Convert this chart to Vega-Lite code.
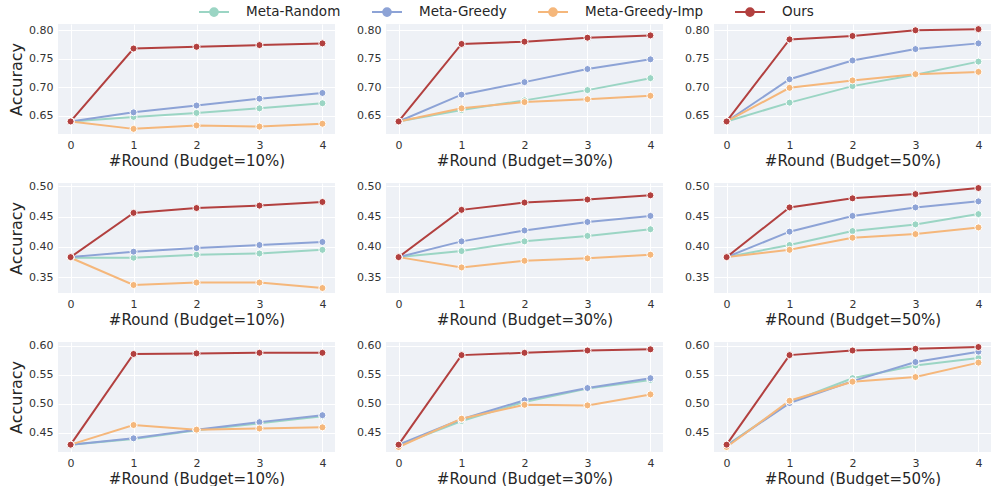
{
  "$schema": "https://vega.github.io/schema/vega-lite/v6.json",
  "padding": {"left": 8, "top": 3, "right": 0, "bottom": 0},
  "datasets": {
    "d": [
      {"p":1,"m":"Meta-Random","r":0,"a":0.640},{"p":1,"m":"Meta-Random","r":1,"a":0.648},{"p":1,"m":"Meta-Random","r":2,"a":0.655},{"p":1,"m":"Meta-Random","r":3,"a":0.663},{"p":1,"m":"Meta-Random","r":4,"a":0.672},
      {"p":1,"m":"Meta-Greedy","r":0,"a":0.640},{"p":1,"m":"Meta-Greedy","r":1,"a":0.656},{"p":1,"m":"Meta-Greedy","r":2,"a":0.668},{"p":1,"m":"Meta-Greedy","r":3,"a":0.680},{"p":1,"m":"Meta-Greedy","r":4,"a":0.690},
      {"p":1,"m":"Meta-Greedy-Imp","r":0,"a":0.640},{"p":1,"m":"Meta-Greedy-Imp","r":1,"a":0.627},{"p":1,"m":"Meta-Greedy-Imp","r":2,"a":0.633},{"p":1,"m":"Meta-Greedy-Imp","r":3,"a":0.631},{"p":1,"m":"Meta-Greedy-Imp","r":4,"a":0.636},
      {"p":1,"m":"Ours","r":0,"a":0.640},{"p":1,"m":"Ours","r":1,"a":0.768},{"p":1,"m":"Ours","r":2,"a":0.771},{"p":1,"m":"Ours","r":3,"a":0.774},{"p":1,"m":"Ours","r":4,"a":0.777},

      {"p":2,"m":"Meta-Random","r":0,"a":0.640},{"p":2,"m":"Meta-Random","r":1,"a":0.660},{"p":2,"m":"Meta-Random","r":2,"a":0.677},{"p":2,"m":"Meta-Random","r":3,"a":0.695},{"p":2,"m":"Meta-Random","r":4,"a":0.716},
      {"p":2,"m":"Meta-Greedy","r":0,"a":0.640},{"p":2,"m":"Meta-Greedy","r":1,"a":0.687},{"p":2,"m":"Meta-Greedy","r":2,"a":0.709},{"p":2,"m":"Meta-Greedy","r":3,"a":0.732},{"p":2,"m":"Meta-Greedy","r":4,"a":0.749},
      {"p":2,"m":"Meta-Greedy-Imp","r":0,"a":0.640},{"p":2,"m":"Meta-Greedy-Imp","r":1,"a":0.663},{"p":2,"m":"Meta-Greedy-Imp","r":2,"a":0.674},{"p":2,"m":"Meta-Greedy-Imp","r":3,"a":0.679},{"p":2,"m":"Meta-Greedy-Imp","r":4,"a":0.685},
      {"p":2,"m":"Ours","r":0,"a":0.640},{"p":2,"m":"Ours","r":1,"a":0.776},{"p":2,"m":"Ours","r":2,"a":0.780},{"p":2,"m":"Ours","r":3,"a":0.787},{"p":2,"m":"Ours","r":4,"a":0.791},

      {"p":3,"m":"Meta-Random","r":0,"a":0.640},{"p":3,"m":"Meta-Random","r":1,"a":0.673},{"p":3,"m":"Meta-Random","r":2,"a":0.702},{"p":3,"m":"Meta-Random","r":3,"a":0.722},{"p":3,"m":"Meta-Random","r":4,"a":0.745},
      {"p":3,"m":"Meta-Greedy","r":0,"a":0.640},{"p":3,"m":"Meta-Greedy","r":1,"a":0.714},{"p":3,"m":"Meta-Greedy","r":2,"a":0.747},{"p":3,"m":"Meta-Greedy","r":3,"a":0.767},{"p":3,"m":"Meta-Greedy","r":4,"a":0.777},
      {"p":3,"m":"Meta-Greedy-Imp","r":0,"a":0.640},{"p":3,"m":"Meta-Greedy-Imp","r":1,"a":0.699},{"p":3,"m":"Meta-Greedy-Imp","r":2,"a":0.712},{"p":3,"m":"Meta-Greedy-Imp","r":3,"a":0.723},{"p":3,"m":"Meta-Greedy-Imp","r":4,"a":0.727},
      {"p":3,"m":"Ours","r":0,"a":0.640},{"p":3,"m":"Ours","r":1,"a":0.784},{"p":3,"m":"Ours","r":2,"a":0.790},{"p":3,"m":"Ours","r":3,"a":0.800},{"p":3,"m":"Ours","r":4,"a":0.802},

      {"p":4,"m":"Meta-Random","r":0,"a":0.382},{"p":4,"m":"Meta-Random","r":1,"a":0.382},{"p":4,"m":"Meta-Random","r":2,"a":0.387},{"p":4,"m":"Meta-Random","r":3,"a":0.389},{"p":4,"m":"Meta-Random","r":4,"a":0.395},
      {"p":4,"m":"Meta-Greedy","r":0,"a":0.383},{"p":4,"m":"Meta-Greedy","r":1,"a":0.392},{"p":4,"m":"Meta-Greedy","r":2,"a":0.398},{"p":4,"m":"Meta-Greedy","r":3,"a":0.403},{"p":4,"m":"Meta-Greedy","r":4,"a":0.408},
      {"p":4,"m":"Meta-Greedy-Imp","r":0,"a":0.382},{"p":4,"m":"Meta-Greedy-Imp","r":1,"a":0.337},{"p":4,"m":"Meta-Greedy-Imp","r":2,"a":0.341},{"p":4,"m":"Meta-Greedy-Imp","r":3,"a":0.341},{"p":4,"m":"Meta-Greedy-Imp","r":4,"a":0.332},
      {"p":4,"m":"Ours","r":0,"a":0.383},{"p":4,"m":"Ours","r":1,"a":0.456},{"p":4,"m":"Ours","r":2,"a":0.464},{"p":4,"m":"Ours","r":3,"a":0.468},{"p":4,"m":"Ours","r":4,"a":0.474},

      {"p":5,"m":"Meta-Random","r":0,"a":0.383},{"p":5,"m":"Meta-Random","r":1,"a":0.393},{"p":5,"m":"Meta-Random","r":2,"a":0.409},{"p":5,"m":"Meta-Random","r":3,"a":0.418},{"p":5,"m":"Meta-Random","r":4,"a":0.429},
      {"p":5,"m":"Meta-Greedy","r":0,"a":0.383},{"p":5,"m":"Meta-Greedy","r":1,"a":0.409},{"p":5,"m":"Meta-Greedy","r":2,"a":0.427},{"p":5,"m":"Meta-Greedy","r":3,"a":0.441},{"p":5,"m":"Meta-Greedy","r":4,"a":0.451},
      {"p":5,"m":"Meta-Greedy-Imp","r":0,"a":0.383},{"p":5,"m":"Meta-Greedy-Imp","r":1,"a":0.366},{"p":5,"m":"Meta-Greedy-Imp","r":2,"a":0.377},{"p":5,"m":"Meta-Greedy-Imp","r":3,"a":0.381},{"p":5,"m":"Meta-Greedy-Imp","r":4,"a":0.387},
      {"p":5,"m":"Ours","r":0,"a":0.383},{"p":5,"m":"Ours","r":1,"a":0.461},{"p":5,"m":"Ours","r":2,"a":0.473},{"p":5,"m":"Ours","r":3,"a":0.478},{"p":5,"m":"Ours","r":4,"a":0.485},

      {"p":6,"m":"Meta-Random","r":0,"a":0.383},{"p":6,"m":"Meta-Random","r":1,"a":0.403},{"p":6,"m":"Meta-Random","r":2,"a":0.426},{"p":6,"m":"Meta-Random","r":3,"a":0.437},{"p":6,"m":"Meta-Random","r":4,"a":0.454},
      {"p":6,"m":"Meta-Greedy","r":0,"a":0.383},{"p":6,"m":"Meta-Greedy","r":1,"a":0.425},{"p":6,"m":"Meta-Greedy","r":2,"a":0.451},{"p":6,"m":"Meta-Greedy","r":3,"a":0.465},{"p":6,"m":"Meta-Greedy","r":4,"a":0.475},
      {"p":6,"m":"Meta-Greedy-Imp","r":0,"a":0.383},{"p":6,"m":"Meta-Greedy-Imp","r":1,"a":0.395},{"p":6,"m":"Meta-Greedy-Imp","r":2,"a":0.415},{"p":6,"m":"Meta-Greedy-Imp","r":3,"a":0.421},{"p":6,"m":"Meta-Greedy-Imp","r":4,"a":0.432},
      {"p":6,"m":"Ours","r":0,"a":0.383},{"p":6,"m":"Ours","r":1,"a":0.465},{"p":6,"m":"Ours","r":2,"a":0.480},{"p":6,"m":"Ours","r":3,"a":0.487},{"p":6,"m":"Ours","r":4,"a":0.497},

      {"p":7,"m":"Meta-Random","r":0,"a":0.429},{"p":7,"m":"Meta-Random","r":1,"a":0.439},{"p":7,"m":"Meta-Random","r":2,"a":0.454},{"p":7,"m":"Meta-Random","r":3,"a":0.466},{"p":7,"m":"Meta-Random","r":4,"a":0.478},
      {"p":7,"m":"Meta-Greedy","r":0,"a":0.429},{"p":7,"m":"Meta-Greedy","r":1,"a":0.440},{"p":7,"m":"Meta-Greedy","r":2,"a":0.455},{"p":7,"m":"Meta-Greedy","r":3,"a":0.468},{"p":7,"m":"Meta-Greedy","r":4,"a":0.480},
      {"p":7,"m":"Meta-Greedy-Imp","r":0,"a":0.429},{"p":7,"m":"Meta-Greedy-Imp","r":1,"a":0.463},{"p":7,"m":"Meta-Greedy-Imp","r":2,"a":0.455},{"p":7,"m":"Meta-Greedy-Imp","r":3,"a":0.457},{"p":7,"m":"Meta-Greedy-Imp","r":4,"a":0.459},
      {"p":7,"m":"Ours","r":0,"a":0.429},{"p":7,"m":"Ours","r":1,"a":0.586},{"p":7,"m":"Ours","r":2,"a":0.587},{"p":7,"m":"Ours","r":3,"a":0.588},{"p":7,"m":"Ours","r":4,"a":0.588},

      {"p":8,"m":"Meta-Random","r":0,"a":0.428},{"p":8,"m":"Meta-Random","r":1,"a":0.470},{"p":8,"m":"Meta-Random","r":2,"a":0.503},{"p":8,"m":"Meta-Random","r":3,"a":0.526},{"p":8,"m":"Meta-Random","r":4,"a":0.541},
      {"p":8,"m":"Meta-Greedy","r":0,"a":0.429},{"p":8,"m":"Meta-Greedy","r":1,"a":0.473},{"p":8,"m":"Meta-Greedy","r":2,"a":0.506},{"p":8,"m":"Meta-Greedy","r":3,"a":0.527},{"p":8,"m":"Meta-Greedy","r":4,"a":0.544},
      {"p":8,"m":"Meta-Greedy-Imp","r":0,"a":0.425},{"p":8,"m":"Meta-Greedy-Imp","r":1,"a":0.474},{"p":8,"m":"Meta-Greedy-Imp","r":2,"a":0.498},{"p":8,"m":"Meta-Greedy-Imp","r":3,"a":0.497},{"p":8,"m":"Meta-Greedy-Imp","r":4,"a":0.516},
      {"p":8,"m":"Ours","r":0,"a":0.429},{"p":8,"m":"Ours","r":1,"a":0.584},{"p":8,"m":"Ours","r":2,"a":0.588},{"p":8,"m":"Ours","r":3,"a":0.592},{"p":8,"m":"Ours","r":4,"a":0.594},

      {"p":9,"m":"Meta-Random","r":0,"a":0.428},{"p":9,"m":"Meta-Random","r":1,"a":0.502},{"p":9,"m":"Meta-Random","r":2,"a":0.544},{"p":9,"m":"Meta-Random","r":3,"a":0.566},{"p":9,"m":"Meta-Random","r":4,"a":0.579},
      {"p":9,"m":"Meta-Greedy","r":0,"a":0.427},{"p":9,"m":"Meta-Greedy","r":1,"a":0.501},{"p":9,"m":"Meta-Greedy","r":2,"a":0.539},{"p":9,"m":"Meta-Greedy","r":3,"a":0.572},{"p":9,"m":"Meta-Greedy","r":4,"a":0.590},
      {"p":9,"m":"Meta-Greedy-Imp","r":0,"a":0.425},{"p":9,"m":"Meta-Greedy-Imp","r":1,"a":0.505},{"p":9,"m":"Meta-Greedy-Imp","r":2,"a":0.538},{"p":9,"m":"Meta-Greedy-Imp","r":3,"a":0.546},{"p":9,"m":"Meta-Greedy-Imp","r":4,"a":0.571},
      {"p":9,"m":"Ours","r":0,"a":0.429},{"p":9,"m":"Ours","r":1,"a":0.584},{"p":9,"m":"Ours","r":2,"a":0.592},{"p":9,"m":"Ours","r":3,"a":0.595},{"p":9,"m":"Ours","r":4,"a":0.598}
    ]
  },
  "data": {"name": "d"},
  "columns": 3,
  "spacing": {"row": 49, "column": 51},
  "bounds": "flush",
  "concat": [
    {"width":277,"height":110,"transform":[{"filter":"datum.p==1"}],
     "encoding":{
       "x":{"field":"r","type":"quantitative","scale":{"domain":[-0.2,4.2],"nice":false,"zero":false},"axis":{"values":[0,1,2,3,4],"format":"d","title":"#Round (Budget=10%)"}},
       "y":{"field":"a","type":"quantitative","scale":{"domain":[0.618,0.811],"nice":false,"zero":false},"axis":{"values":[0.65,0.7,0.75,0.8],"format":".2f","title":"Accuracy"}},
       "color":{"field":"m","type":"nominal","scale":{"domain":["Meta-Random","Meta-Greedy","Meta-Greedy-Imp","Ours"],"range":["#9bd5c4","#8da3d6","#f5b77b","#b2403f"]},
         "legend":{"orient":"none","legendX":147,"legendY":-21,"direction":"horizontal","title":null,"symbolType":"M-1.875,0L-0.48,0M0.48,0L1.875,0M-0.48,0A0.48,0.48,0,1,1,0.48,0A0.48,0.48,0,1,1,-0.48,0Z","symbolSize":256,"labelOffset":23,"columnPadding":27,"labelFontSize":13.5,"labelFont":"DejaVu Sans","labelColor":"#262626",
           "encode":{"symbols":{"update":{"fill":{"scale":"color","field":"value"},"stroke":{"scale":"color","field":"value"},"strokeWidth":{"value":2},"opacity":{"value":1}}}}}}},
     "layer":[{"mark":{"type":"line","strokeWidth":2}},{"mark":{"type":"point","filled":true,"size":50,"stroke":"white","strokeWidth":1,"opacity":1}}]},
    {"width":277,"height":110,"transform":[{"filter":"datum.p==2"}],
     "encoding":{
       "x":{"field":"r","type":"quantitative","scale":{"domain":[-0.2,4.2],"nice":false,"zero":false},"axis":{"values":[0,1,2,3,4],"format":"d","title":"#Round (Budget=30%)"}},
       "y":{"field":"a","type":"quantitative","scale":{"domain":[0.618,0.811],"nice":false,"zero":false},"axis":{"values":[0.65,0.7,0.75,0.8],"format":".2f","title":null}},
       "color":{"field":"m","type":"nominal","scale":{"domain":["Meta-Random","Meta-Greedy","Meta-Greedy-Imp","Ours"],"range":["#9bd5c4","#8da3d6","#f5b77b","#b2403f"]},
         "legend":{"orient":"none","legendX":147,"legendY":-21,"direction":"horizontal","title":null,"symbolType":"M-1.875,0L-0.48,0M0.48,0L1.875,0M-0.48,0A0.48,0.48,0,1,1,0.48,0A0.48,0.48,0,1,1,-0.48,0Z","symbolSize":256,"labelOffset":23,"columnPadding":27,"labelFontSize":13.5,"labelFont":"DejaVu Sans","labelColor":"#262626",
           "encode":{"symbols":{"update":{"fill":{"scale":"color","field":"value"},"stroke":{"scale":"color","field":"value"},"strokeWidth":{"value":2},"opacity":{"value":1}}}}}}},
     "layer":[{"mark":{"type":"line","strokeWidth":2}},{"mark":{"type":"point","filled":true,"size":50,"stroke":"white","strokeWidth":1,"opacity":1}}]},
    {"width":277,"height":110,"transform":[{"filter":"datum.p==3"}],
     "encoding":{
       "x":{"field":"r","type":"quantitative","scale":{"domain":[-0.2,4.2],"nice":false,"zero":false},"axis":{"values":[0,1,2,3,4],"format":"d","title":"#Round (Budget=50%)"}},
       "y":{"field":"a","type":"quantitative","scale":{"domain":[0.618,0.811],"nice":false,"zero":false},"axis":{"values":[0.65,0.7,0.75,0.8],"format":".2f","title":null}},
       "color":{"field":"m","type":"nominal","scale":{"domain":["Meta-Random","Meta-Greedy","Meta-Greedy-Imp","Ours"],"range":["#9bd5c4","#8da3d6","#f5b77b","#b2403f"]},
         "legend":{"orient":"none","legendX":147,"legendY":-21,"direction":"horizontal","title":null,"symbolType":"M-1.875,0L-0.48,0M0.48,0L1.875,0M-0.48,0A0.48,0.48,0,1,1,0.48,0A0.48,0.48,0,1,1,-0.48,0Z","symbolSize":256,"labelOffset":23,"columnPadding":27,"labelFontSize":13.5,"labelFont":"DejaVu Sans","labelColor":"#262626",
           "encode":{"symbols":{"update":{"fill":{"scale":"color","field":"value"},"stroke":{"scale":"color","field":"value"},"strokeWidth":{"value":2},"opacity":{"value":1}}}}}}},
     "layer":[{"mark":{"type":"line","strokeWidth":2}},{"mark":{"type":"point","filled":true,"size":50,"stroke":"white","strokeWidth":1,"opacity":1}}]},
    {"width":277,"height":110,"transform":[{"filter":"datum.p==4"}],
     "encoding":{
       "x":{"field":"r","type":"quantitative","scale":{"domain":[-0.2,4.2],"nice":false,"zero":false},"axis":{"values":[0,1,2,3,4],"format":"d","title":"#Round (Budget=10%)"}},
       "y":{"field":"a","type":"quantitative","scale":{"domain":[0.3238,0.5053],"nice":false,"zero":false},"axis":{"values":[0.35,0.4,0.45,0.5],"format":".2f","title":"Accuracy"}},
       "color":{"field":"m","type":"nominal","scale":{"domain":["Meta-Random","Meta-Greedy","Meta-Greedy-Imp","Ours"],"range":["#9bd5c4","#8da3d6","#f5b77b","#b2403f"]},
         "legend":{"orient":"none","legendX":147,"legendY":-21,"direction":"horizontal","title":null,"symbolType":"M-1.875,0L-0.48,0M0.48,0L1.875,0M-0.48,0A0.48,0.48,0,1,1,0.48,0A0.48,0.48,0,1,1,-0.48,0Z","symbolSize":256,"labelOffset":23,"columnPadding":27,"labelFontSize":13.5,"labelFont":"DejaVu Sans","labelColor":"#262626",
           "encode":{"symbols":{"update":{"fill":{"scale":"color","field":"value"},"stroke":{"scale":"color","field":"value"},"strokeWidth":{"value":2},"opacity":{"value":1}}}}}}},
     "layer":[{"mark":{"type":"line","strokeWidth":2}},{"mark":{"type":"point","filled":true,"size":50,"stroke":"white","strokeWidth":1,"opacity":1}}]},
    {"width":277,"height":110,"transform":[{"filter":"datum.p==5"}],
     "encoding":{
       "x":{"field":"r","type":"quantitative","scale":{"domain":[-0.2,4.2],"nice":false,"zero":false},"axis":{"values":[0,1,2,3,4],"format":"d","title":"#Round (Budget=30%)"}},
       "y":{"field":"a","type":"quantitative","scale":{"domain":[0.3238,0.5053],"nice":false,"zero":false},"axis":{"values":[0.35,0.4,0.45,0.5],"format":".2f","title":null}},
       "color":{"field":"m","type":"nominal","scale":{"domain":["Meta-Random","Meta-Greedy","Meta-Greedy-Imp","Ours"],"range":["#9bd5c4","#8da3d6","#f5b77b","#b2403f"]},
         "legend":{"orient":"none","legendX":147,"legendY":-21,"direction":"horizontal","title":null,"symbolType":"M-1.875,0L-0.48,0M0.48,0L1.875,0M-0.48,0A0.48,0.48,0,1,1,0.48,0A0.48,0.48,0,1,1,-0.48,0Z","symbolSize":256,"labelOffset":23,"columnPadding":27,"labelFontSize":13.5,"labelFont":"DejaVu Sans","labelColor":"#262626",
           "encode":{"symbols":{"update":{"fill":{"scale":"color","field":"value"},"stroke":{"scale":"color","field":"value"},"strokeWidth":{"value":2},"opacity":{"value":1}}}}}}},
     "layer":[{"mark":{"type":"line","strokeWidth":2}},{"mark":{"type":"point","filled":true,"size":50,"stroke":"white","strokeWidth":1,"opacity":1}}]},
    {"width":277,"height":110,"transform":[{"filter":"datum.p==6"}],
     "encoding":{
       "x":{"field":"r","type":"quantitative","scale":{"domain":[-0.2,4.2],"nice":false,"zero":false},"axis":{"values":[0,1,2,3,4],"format":"d","title":"#Round (Budget=50%)"}},
       "y":{"field":"a","type":"quantitative","scale":{"domain":[0.3238,0.5053],"nice":false,"zero":false},"axis":{"values":[0.35,0.4,0.45,0.5],"format":".2f","title":null}},
       "color":{"field":"m","type":"nominal","scale":{"domain":["Meta-Random","Meta-Greedy","Meta-Greedy-Imp","Ours"],"range":["#9bd5c4","#8da3d6","#f5b77b","#b2403f"]},
         "legend":{"orient":"none","legendX":147,"legendY":-21,"direction":"horizontal","title":null,"symbolType":"M-1.875,0L-0.48,0M0.48,0L1.875,0M-0.48,0A0.48,0.48,0,1,1,0.48,0A0.48,0.48,0,1,1,-0.48,0Z","symbolSize":256,"labelOffset":23,"columnPadding":27,"labelFontSize":13.5,"labelFont":"DejaVu Sans","labelColor":"#262626",
           "encode":{"symbols":{"update":{"fill":{"scale":"color","field":"value"},"stroke":{"scale":"color","field":"value"},"strokeWidth":{"value":2},"opacity":{"value":1}}}}}}},
     "layer":[{"mark":{"type":"line","strokeWidth":2}},{"mark":{"type":"point","filled":true,"size":50,"stroke":"white","strokeWidth":1,"opacity":1}}]},
    {"width":277,"height":110,"transform":[{"filter":"datum.p==7"}],
     "encoding":{
       "x":{"field":"r","type":"quantitative","scale":{"domain":[-0.2,4.2],"nice":false,"zero":false},"axis":{"values":[0,1,2,3,4],"format":"d","title":"#Round (Budget=10%)"}},
       "y":{"field":"a","type":"quantitative","scale":{"domain":[0.4163,0.6067],"nice":false,"zero":false},"axis":{"values":[0.45,0.5,0.55,0.6],"format":".2f","title":"Accuracy"}},
       "color":{"field":"m","type":"nominal","scale":{"domain":["Meta-Random","Meta-Greedy","Meta-Greedy-Imp","Ours"],"range":["#9bd5c4","#8da3d6","#f5b77b","#b2403f"]},
         "legend":{"orient":"none","legendX":147,"legendY":-21,"direction":"horizontal","title":null,"symbolType":"M-1.875,0L-0.48,0M0.48,0L1.875,0M-0.48,0A0.48,0.48,0,1,1,0.48,0A0.48,0.48,0,1,1,-0.48,0Z","symbolSize":256,"labelOffset":23,"columnPadding":27,"labelFontSize":13.5,"labelFont":"DejaVu Sans","labelColor":"#262626",
           "encode":{"symbols":{"update":{"fill":{"scale":"color","field":"value"},"stroke":{"scale":"color","field":"value"},"strokeWidth":{"value":2},"opacity":{"value":1}}}}}}},
     "layer":[{"mark":{"type":"line","strokeWidth":2}},{"mark":{"type":"point","filled":true,"size":50,"stroke":"white","strokeWidth":1,"opacity":1}}]},
    {"width":277,"height":110,"transform":[{"filter":"datum.p==8"}],
     "encoding":{
       "x":{"field":"r","type":"quantitative","scale":{"domain":[-0.2,4.2],"nice":false,"zero":false},"axis":{"values":[0,1,2,3,4],"format":"d","title":"#Round (Budget=30%)"}},
       "y":{"field":"a","type":"quantitative","scale":{"domain":[0.4163,0.6067],"nice":false,"zero":false},"axis":{"values":[0.45,0.5,0.55,0.6],"format":".2f","title":null}},
       "color":{"field":"m","type":"nominal","scale":{"domain":["Meta-Random","Meta-Greedy","Meta-Greedy-Imp","Ours"],"range":["#9bd5c4","#8da3d6","#f5b77b","#b2403f"]},
         "legend":{"orient":"none","legendX":147,"legendY":-21,"direction":"horizontal","title":null,"symbolType":"M-1.875,0L-0.48,0M0.48,0L1.875,0M-0.48,0A0.48,0.48,0,1,1,0.48,0A0.48,0.48,0,1,1,-0.48,0Z","symbolSize":256,"labelOffset":23,"columnPadding":27,"labelFontSize":13.5,"labelFont":"DejaVu Sans","labelColor":"#262626",
           "encode":{"symbols":{"update":{"fill":{"scale":"color","field":"value"},"stroke":{"scale":"color","field":"value"},"strokeWidth":{"value":2},"opacity":{"value":1}}}}}}},
     "layer":[{"mark":{"type":"line","strokeWidth":2}},{"mark":{"type":"point","filled":true,"size":50,"stroke":"white","strokeWidth":1,"opacity":1}}]},
    {"width":277,"height":110,"transform":[{"filter":"datum.p==9"}],
     "encoding":{
       "x":{"field":"r","type":"quantitative","scale":{"domain":[-0.2,4.2],"nice":false,"zero":false},"axis":{"values":[0,1,2,3,4],"format":"d","title":"#Round (Budget=50%)"}},
       "y":{"field":"a","type":"quantitative","scale":{"domain":[0.4163,0.6067],"nice":false,"zero":false},"axis":{"values":[0.45,0.5,0.55,0.6],"format":".2f","title":null}},
       "color":{"field":"m","type":"nominal","scale":{"domain":["Meta-Random","Meta-Greedy","Meta-Greedy-Imp","Ours"],"range":["#9bd5c4","#8da3d6","#f5b77b","#b2403f"]},
         "legend":{"orient":"none","legendX":147,"legendY":-21,"direction":"horizontal","title":null,"symbolType":"M-1.875,0L-0.48,0M0.48,0L1.875,0M-0.48,0A0.48,0.48,0,1,1,0.48,0A0.48,0.48,0,1,1,-0.48,0Z","symbolSize":256,"labelOffset":23,"columnPadding":27,"labelFontSize":13.5,"labelFont":"DejaVu Sans","labelColor":"#262626",
           "encode":{"symbols":{"update":{"fill":{"scale":"color","field":"value"},"stroke":{"scale":"color","field":"value"},"strokeWidth":{"value":2},"opacity":{"value":1}}}}}}},
     "layer":[{"mark":{"type":"line","strokeWidth":2}},{"mark":{"type":"point","filled":true,"size":50,"stroke":"white","strokeWidth":1,"opacity":1}}]}
  ],
  "config": {
    "font": "DejaVu Sans",
    "view": {"stroke": null, "fill": "#eef1f6"},
    "axis": {"domain": false, "ticks": false, "grid": true, "gridColor": "#ffffff", "gridWidth": 1, "gridOpacity": 1,
      "labelFont": "DejaVu Sans", "labelFontSize": 11, "labelColor": "#333333", "labelPadding": 5,
      "titleFont": "DejaVu Sans", "titleFontSize": 15, "titleFontWeight": "normal", "titleColor": "#262626", "titlePadding": 3},
    "axisY": {"labelPadding": 5, "titleFontSize": 16, "titlePadding": 4}
  }
}
